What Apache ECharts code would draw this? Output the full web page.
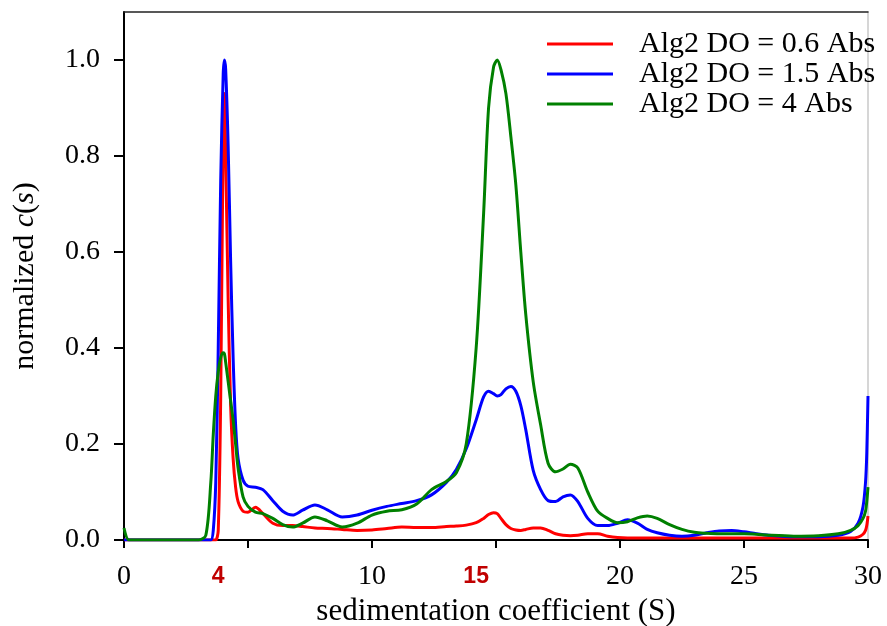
<!DOCTYPE html>
<html>
<head>
<meta charset="utf-8">
<script src="https://cdn.jsdelivr.net/npm/echarts@6/dist/echarts.min.js"></script>
<style>
html,body{margin:0;padding:0;background:#fff;}
#chart{width:887px;height:626px;}
</style>
</head>
<body>
<div id="chart"></div>
<script>
// ---- data ----
var seriesNames = ['Alg2 DO = 0.6 Abs', 'Alg2 DO = 1.5 Abs', 'Alg2 DO = 4 Abs'];
var sValues = [0, 0.2, 0.5, 1, 2, 3, 3.3, 3.5, 3.6, 3.7, 3.8, 3.9, 4.0, 4.05, 4.1, 4.2, 4.3, 4.4, 4.5, 4.6, 4.8, 5.0, 5.3, 5.6, 6.0, 6.4, 6.8, 7.2, 7.7, 8.2, 8.8, 9.4, 10.0, 10.6, 11.2, 11.8, 12.4, 13.0, 13.4, 13.8, 14.2, 14.5, 14.7, 14.9, 15.05, 15.2, 15.4, 15.6, 15.8, 16.0, 16.2, 16.5, 16.8, 17.1, 17.4, 17.7, 18.0, 18.3, 18.7, 19.1, 19.5, 19.9, 20.3, 20.7, 21.1, 21.5, 22.0, 22.5, 23.0, 23.5, 24.0, 24.5, 25.0, 25.5, 26.0, 27.0, 28.0, 28.8, 29.3, 29.6, 29.8, 29.9, 29.95, 30];
var red06 = [0, 0, 0, 0, 0, 0, 0, 0, 0, 0, 0.02, 0.3, 0.85, 0.93, 0.8, 0.5, 0.28, 0.17, 0.11, 0.08, 0.06, 0.058, 0.068, 0.055, 0.035, 0.03, 0.03, 0.028, 0.025, 0.024, 0.022, 0.02, 0.021, 0.024, 0.027, 0.026, 0.026, 0.028, 0.029, 0.031, 0.036, 0.045, 0.053, 0.057, 0.055, 0.045, 0.032, 0.024, 0.021, 0.02, 0.022, 0.025, 0.025, 0.02, 0.013, 0.01, 0.009, 0.01, 0.013, 0.013, 0.008, 0.005, 0.004, 0.004, 0.004, 0.004, 0.004, 0.004, 0.004, 0.004, 0.004, 0.004, 0.004, 0.004, 0.004, 0.004, 0.004, 0.004, 0.004, 0.006, 0.012, 0.02, 0.03, 0.05];
var blue15 = [0, 0, 0, 0, 0, 0, 0, 0, 0.02, 0.12, 0.4, 0.75, 0.97, 1.0, 0.98, 0.82, 0.58, 0.38, 0.24, 0.17, 0.125, 0.112, 0.11, 0.105, 0.082, 0.06, 0.052, 0.062, 0.073, 0.063, 0.048, 0.052, 0.062, 0.07, 0.076, 0.082, 0.094, 0.12, 0.147, 0.19, 0.25, 0.298, 0.31, 0.305, 0.3, 0.303, 0.315, 0.32, 0.31, 0.28, 0.23, 0.145, 0.105, 0.082, 0.08, 0.09, 0.094, 0.08, 0.045, 0.03, 0.03, 0.035, 0.042, 0.035, 0.022, 0.015, 0.01, 0.008, 0.01, 0.015, 0.019, 0.02, 0.017, 0.013, 0.01, 0.007, 0.007, 0.01, 0.018, 0.035, 0.07, 0.12, 0.18, 0.30];
var green4 = [0.025, 0, 0, 0, 0, 0, 0.01, 0.12, 0.22, 0.3, 0.35, 0.38, 0.39, 0.388, 0.37, 0.33, 0.29, 0.25, 0.2, 0.15, 0.09, 0.07, 0.058, 0.055, 0.045, 0.032, 0.027, 0.035, 0.048, 0.04, 0.027, 0.035, 0.052, 0.06, 0.063, 0.075, 0.105, 0.122, 0.14, 0.2, 0.4, 0.68, 0.9, 0.985, 1.0, 0.98, 0.93, 0.84, 0.74, 0.6, 0.47, 0.33, 0.24, 0.16, 0.142, 0.148, 0.158, 0.15, 0.1, 0.06, 0.045, 0.036, 0.038, 0.046, 0.05, 0.045, 0.032, 0.022, 0.016, 0.014, 0.013, 0.013, 0.013, 0.012, 0.01, 0.008, 0.009, 0.013, 0.02, 0.03, 0.045, 0.06, 0.08, 0.11];
var xTickValues = [0, 5, 10, 15, 20, 25, 30];
var xLabelValues = [0, 10, 20, 25, 30];
var yTickValues = [0, 0.2, 0.4, 0.6, 0.8, 1.0];
var markerLabels = ['4', '15'];
var markerPositions = [3.8, 14.2];
var seriesColors = ['#ff0000', '#0000ff', '#008000'];

function pairs(ys) { return sValues.map(function (x, i) { return [x, ys[i]]; }); }

var serifFont = '"Liberation Serif", "Times New Roman", serif';
var chart = echarts.init(document.getElementById('chart'), null, { renderer: 'canvas' });

var allSeries = [red06, blue15, green4].map(function (ys, i) {
  return {
    name: seriesNames[i],
    type: 'line',
    data: pairs(ys),
    showSymbol: false,
    smooth: 0.3,
    lineStyle: { color: seriesColors[i], width: 3 },
    itemStyle: { color: seriesColors[i] },
    z: 3 + i,
    animation: false
  };
});

var option = {
  animation: false,
  backgroundColor: '#fff',
  grid: { left: 124, right: 19, top: 12, bottom: 86, containLabel: false, outerBoundsMode: 'none' },
  legend: {
    data: seriesNames,
    orient: 'vertical',
    left: 547,
    top: 29,
    padding: 0,
    itemWidth: 66,
    itemHeight: 3,
    itemGap: 0,
    icon: 'rect',
    textStyle: { fontFamily: serifFont, fontSize: 30, color: '#000', lineHeight: 27, padding: [0, 0, 0, 21] }
  },
  xAxis: [{
    type: 'value',
    min: 0, max: 30, interval: 5,
    name: 'sedimentation coefficient (S)',
    nameLocation: 'middle',
    nameGap: 55,
    nameTextStyle: { fontFamily: serifFont, fontSize: 31, color: '#000' },
    axisLine: { show: true, onZero: false, lineStyle: { color: '#000', width: 2 } },
    axisTick: { show: true, inside: false, length: 8, customValues: xTickValues, lineStyle: { color: '#000', width: 2 } },
    axisLabel: { customValues: xLabelValues, margin: 23, fontFamily: serifFont, fontSize: 28, color: '#000' },
    splitLine: { show: false }
  }, {
    type: 'value', position: 'top', min: 0, max: 30,
    axisLine: { show: true, onZero: false, lineStyle: { color: '#222', width: 1.5 } },
    axisTick: { show: false }, axisLabel: { show: false }, splitLine: { show: false }
  }],
  yAxis: [{
    type: 'value',
    min: 0, max: 1.1, interval: 0.2,
    name: '{n|normalized }{i|c}{n|(}{i|s}{n|)}',
    nameLocation: 'middle',
    nameGap: 84,
    nameRotate: 90,
    nameTextStyle: {
      rich: {
        n: { fontFamily: serifFont, fontSize: 30, color: '#000' },
        i: { fontFamily: serifFont, fontSize: 30, color: '#000', fontStyle: 'italic' }
      }
    },
    axisLine: { show: true, onZero: false, lineStyle: { color: '#000', width: 2 } },
    axisTick: { show: true, inside: false, length: 10, customValues: yTickValues, lineStyle: { color: '#000', width: 2 } },
    axisLabel: { customValues: yTickValues, margin: 24, fontFamily: serifFont, fontSize: 28, color: '#000',
      formatter: function (v) { return v.toFixed(1); } },
    splitLine: { show: false }
  }, {
    type: 'value', position: 'right', min: 0, max: 1.1,
    axisLine: { show: true, onZero: false, lineStyle: { color: '#c8c8c8', width: 1.5 } },
    axisTick: { show: false }, axisLabel: { show: false }, splitLine: { show: false }
  }],
  series: allSeries
};
chart.setOption(option);

// red annotation labels under the x axis
var graphics = markerLabels.map(function (txt, i) {
  var p = chart.convertToPixel({ xAxisIndex: 0, yAxisIndex: 0 }, [markerPositions[i], 0]);
  return {
    type: 'text',
    x: p[0], y: p[1] + 37,
    style: { text: txt, fill: '#c00000', font: 'bold 23px "Liberation Sans", Arial, sans-serif', align: 'center', verticalAlign: 'middle' },
    z: 10
  };
});
chart.setOption({ graphic: graphics });
</script>
</body>
</html>
